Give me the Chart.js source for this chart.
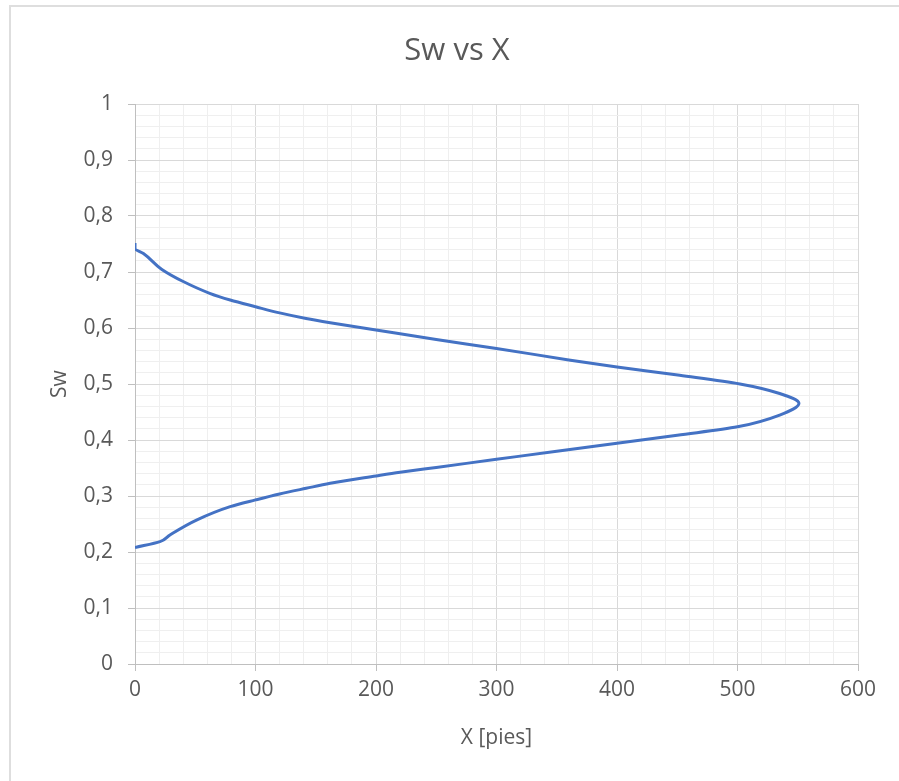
<!DOCTYPE html>
<html>
<head>
<meta charset="utf-8">
<script src="https://cdn.jsdelivr.net/npm/chart.js@4/dist/chart.umd.min.js"></script>
<style>
  html, body { margin: 0; padding: 0; background: #ffffff; overflow: hidden; }
  #wrap { position: relative; width: 899px; height: 781px; overflow: hidden; }
  #frame {
    position: absolute; left: 9px; top: 5px; width: 1000px; height: 1000px;
    border-left: 2px solid #dedede; border-top: 2px solid #dedede;
  }
  canvas { position: absolute; left: 0; top: 0; }
</style>
</head>
<body>
<div id="wrap">
  <div id="frame"></div>
  <canvas id="chart" width="899" height="781"></canvas>
</div>
<script>
// Saturation profile: distance X [pies] for each water saturation Sw,
// running from the high-Sw branch out to the nose and back along the low-Sw branch
const xValues = [0, 0, 7, 22, 40, 62, 79, 100, 120, 142, 162, 200, 250, 300, 360, 400, 452, 502, 535, 551,
                 535, 500, 450, 400, 350, 300, 250, 220, 200, 162, 142, 120, 100, 79, 51, 29, 20.7, 0];
const swValues = [0.752, 0.742, 0.733, 0.705, 0.683, 0.662, 0.650, 0.638, 0.627, 0.617, 0.6095, 0.5965, 0.5795, 0.5635, 0.543, 0.5305, 0.5155, 0.5, 0.483, 0.4655,
                  0.4445, 0.4235, 0.4085, 0.394, 0.38, 0.3655, 0.351, 0.3423, 0.3357, 0.3226, 0.3137, 0.3036, 0.293, 0.281, 0.257, 0.2304, 0.2184, 0.208];

const chartTitle = 'Sw vs X';
const xTitle = 'X [pies]';
const yTitle = 'Sw';

const points = xValues.map((x, i) => ({ x: x, y: swValues[i] }));

const TEXT = '#595959';
const MAJOR = '#d9d9d9';
const MINOR = '#efefef';
const AXIS = '#bfbfbf';
const FONT = "'Open Sans', 'Liberation Sans', sans-serif";

const isMajorX = v => Math.abs(v % 100) < 1e-6;
const isMajorY = v => Math.abs(v * 10 - Math.round(v * 10)) < 1e-6;

new Chart(document.getElementById('chart'), {
  type: 'scatter',
  data: {
    datasets: [{
      data: points,
      // Sw falls steadily along the series, so the smooth curve is built along the Sw axis
      indexAxis: 'y',
      showLine: true,
      borderColor: '#4472c4',
      borderWidth: 3,
      pointRadius: 0,
      cubicInterpolationMode: 'monotone',
      fill: false
    }]
  },
  options: {
    responsive: false,
    animation: false,
    layout: { padding: { left: 56, right: 41, top: 0, bottom: 0 } },
    plugins: {
      legend: { display: false },
      tooltip: { enabled: false },
      title: {
        display: true,
        text: chartTitle,
        color: TEXT,
        font: { family: FONT, size: 31, weight: 'normal', lineHeight: 1.2 },
        padding: { top: 33, bottom: 33.8 }
      }
    },
    scales: {
      x: {
        type: 'linear',
        min: 0, max: 600,
        afterFit: s => { s.height = 117; },
        ticks: {
          stepSize: 20,
          autoSkip: false,
          maxRotation: 0,
          padding: 6,
          color: TEXT,
          font: { family: FONT, size: 21 },
          callback: v => isMajorX(v) ? String(v) : ''
        },
        grid: {
          drawTicks: true,
          tickLength: 7,
          color: c => isMajorX(c.tick.value) ? MAJOR : MINOR,
          tickColor: c => isMajorX(c.tick.value) ? AXIS : 'rgba(0,0,0,0)',
          lineWidth: 1
        },
        border: { color: AXIS, width: 1 },
        title: {
          display: true,
          text: xTitle,
          color: TEXT,
          font: { family: FONT, size: 21, lineHeight: 1.2 },
          padding: { top: 0, bottom: 30 }
        }
      },
      y: {
        type: 'linear',
        min: 0, max: 1,
        afterFit: s => { s.width = 79; },
        ticks: {
          stepSize: 0.02,
          autoSkip: false,
          padding: 15,
          color: TEXT,
          font: { family: FONT, size: 21 },
          callback: v => isMajorY(v) ? String(Math.round(v * 10) / 10).replace('.', ',') : ''
        },
        grid: {
          drawTicks: true,
          tickLength: 7,
          color: c => isMajorY(c.tick.value) ? MAJOR : MINOR,
          tickColor: c => isMajorY(c.tick.value) ? AXIS : 'rgba(0,0,0,0)',
          lineWidth: 1
        },
        border: { color: AXIS, width: 1 },
        title: {
          display: true,
          text: yTitle,
          color: TEXT,
          font: { family: FONT, size: 21, lineHeight: 1.2 },
          padding: { top: -9, bottom: 0 }
        }
      }
    }
  }
});
</script>
</body>
</html>
